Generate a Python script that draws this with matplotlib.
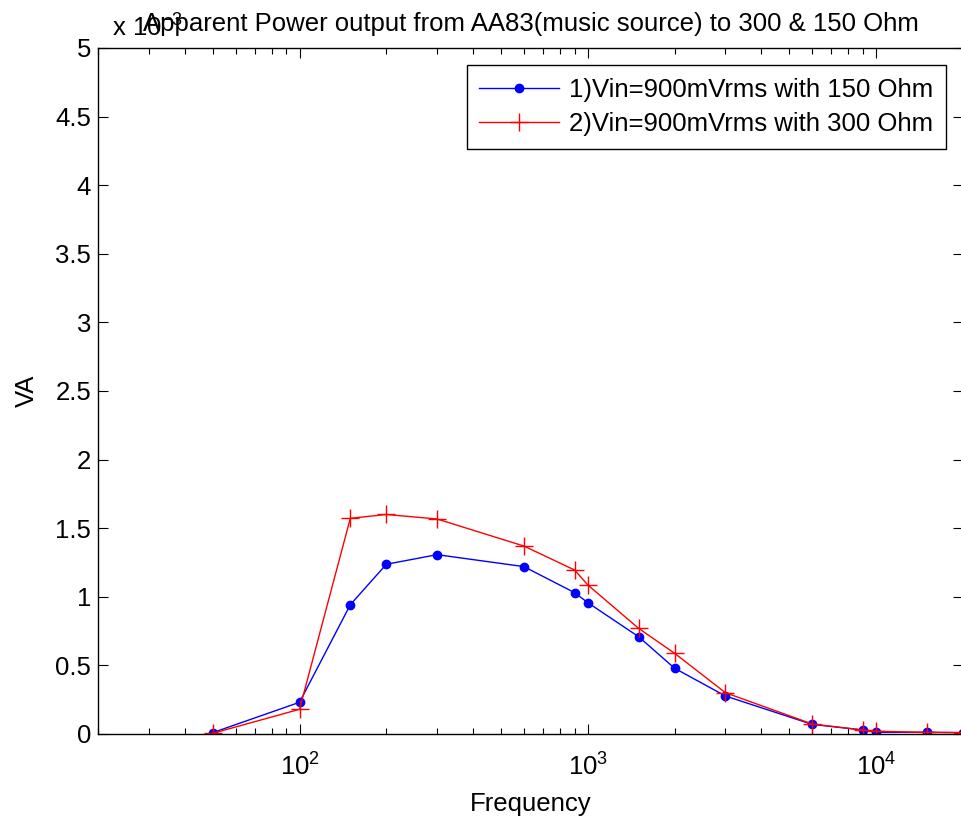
import numpy as np
import matplotlib
matplotlib.use("Agg")
import matplotlib.pyplot as plt
from matplotlib.ticker import FuncFormatter, LogLocator

plt.rcParams['font.family'] = ['Liberation Sans', 'DejaVu Sans']
plt.rcParams['mathtext.fontset'] = 'custom'
plt.rcParams['mathtext.rm'] = 'Liberation Sans'
plt.rcParams['mathtext.it'] = 'Liberation Sans'

# frequencies (Hz) and apparent power (VA)
freq = [50, 100, 150, 200, 300, 600, 900, 1000, 1500, 2000, 3000, 6000, 9000, 10000, 15000, 20000]
va_150 = [0.00001, 0.000231, 0.000942, 0.001237, 0.001307, 0.00122, 0.00103, 0.000957,
          0.000709, 0.000479, 0.000277, 0.00007, 0.000029, 0.000012, 0.000012, 0.00001]
va_300 = [0.000005, 0.00018, 0.001572, 0.0016, 0.001567, 0.00137, 0.001195, 0.001086,
          0.00077, 0.000588, 0.000301, 0.000073, 0.000029, 0.00002, 0.000012, 0.00001]
labels = ['1)Vin=900mVrms with 150 Ohm', '2)Vin=900mVrms with 300 Ohm']

fs = 18.5

fig = plt.figure(figsize=(9.61, 8.19), dpi=100)
ax = fig.add_axes([0.102, 0.1038, 0.9, 0.8376])

ax.plot(freq, va_150, 'b.-', markersize=12, linewidth=1, label=labels[0])
ax.plot(freq, va_300, 'r+-', markersize=13, linewidth=1, markeredgewidth=1, label=labels[1])

ax.set_xscale('log')
ax.set_xlim(20, 20000)
ax.set_ylim(0, 0.005)
ax.set_yticks(np.arange(0, 0.0051, 0.0005))
ax.yaxis.set_major_formatter(FuncFormatter(lambda v, p: f"{v * 1e3:g}"))
ax.xaxis.set_minor_locator(LogLocator(base=10, subs=np.arange(2, 10), numticks=20))

ax.tick_params(which='both', direction='in', top=True, right=True, labelsize=fs)
ax.tick_params(axis='y', pad=5)
ax.tick_params(axis='x', pad=14)
ax.tick_params(which='major', length=7, width=0.8)
ax.tick_params(which='minor', length=4, width=0.8)
for s in ax.spines.values():
    s.set_linewidth(1.0)

ax.set_xlabel('Frequency', fontsize=fs, labelpad=8)
ax.set_ylabel('VA', fontsize=fs, labelpad=12)
ax.set_title('Apparent Power output from AA83(music source) to 300 & 150 Ohm', fontsize=fs, pad=12)
ax.text(0.016, 1.01, r'x 10$^{-3}$', transform=ax.transAxes, fontsize=fs, ha='left', va='bottom')

leg = ax.legend(loc='upper right', fontsize=fs, fancybox=False, framealpha=1, edgecolor='black',
                borderpad=0.5, handlelength=3.1, handletextpad=0.4, labelspacing=0.4,
                borderaxespad=0, bbox_to_anchor=(0.981, 0.975))
leg.get_frame().set_linewidth(1.0)

fig.savefig('out.png', dpi=100)
